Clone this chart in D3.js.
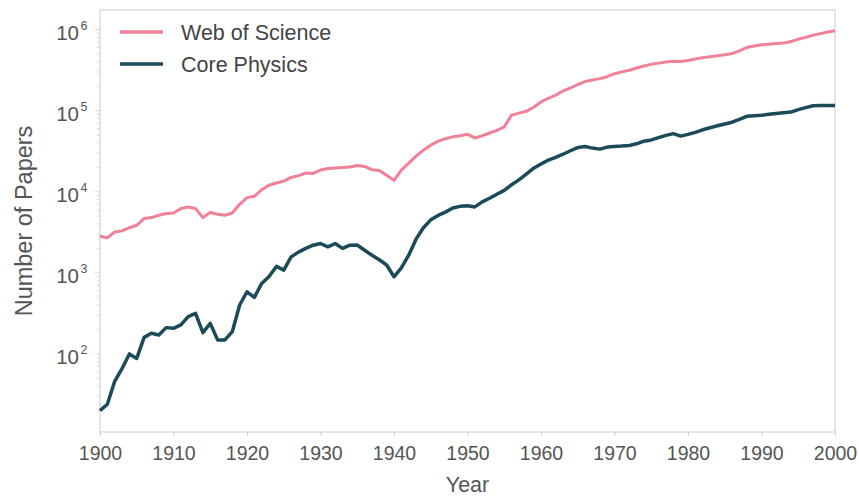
<!DOCTYPE html>
<meta charset="utf-8">
<style>
    body {
        margin: 0;
        background-color: #fff;
    }

    svg {
        display: block;
        font-family: "Liberation Sans", Arial, sans-serif;
    }
</style>
<script src="https://cdn.jsdelivr.net/npm/d3@7"></script>
<svg width="859" height="498"></svg>
<script>
    // anos 1900..2000
    var anos = d3.range(1900, 2001);

    var webOfScience = [
        2830, 2700, 3190, 3290, 3600, 3860, 4670, 4800, 5130, 5380,
        5470, 6200, 6490, 6200, 4800, 5530, 5280, 5130, 5470, 7000,
        8460, 8770, 10600, 12000, 12800, 13500, 15000, 15800, 17000, 16800,
        18500, 19300, 19600, 19900, 20200, 21000, 20500, 18700, 18300, 16000,
        13800, 18500, 22500, 27500, 32500, 37500, 42000, 45000, 47500, 49000,
        51000, 46000, 49000, 53000, 57000, 63000, 88000, 93000, 98000, 110000,
        128000, 142000, 155000, 175000, 190000, 210000, 228000, 238000, 248000, 262000,
        285000, 300000, 315000, 335000, 355000, 372000, 385000, 398000, 406000, 403000,
        415000, 432000, 450000, 462000, 475000, 487000, 505000, 545000, 600000, 625000,
        650000, 660000, 670000, 680000, 710000, 760000, 800000, 850000, 890000, 930000,
        966000
    ];

    var corePhysics = [
        20, 24, 46, 66, 100, 88, 160, 180, 171, 211,
        207, 228, 288, 316, 183, 238, 149, 149, 188, 401,
        584, 498, 740, 900, 1200, 1080, 1573, 1800, 2000, 2190,
        2300, 2090, 2300, 2000, 2190, 2200, 1900, 1650, 1450, 1250,
        894, 1150, 1650, 2600, 3600, 4500, 5100, 5600, 6300, 6600,
        6700, 6500, 7500, 8300, 9300, 10400, 12200, 14000, 16500, 19500,
        22000, 24500, 26500, 29000, 32000, 35000, 36100, 34500, 33500, 35500,
        36000, 36500, 37200, 39000, 42000, 43500, 46500, 49500, 52000, 48500,
        51000, 54000, 58000, 61500, 65000, 68500, 72000, 78000, 85000, 86500,
        87500, 90000, 92000, 94000, 96000, 103000, 109000, 115000, 116000, 116000,
        116000
    ];

    var series = [
        { nome: "Web of Science", valores: webOfScience, cor: "#f08196", largura: 3 },
        { nome: "Core Physics", valores: corePhysics, cor: "#1b4b58", largura: 3.5 }
    ];

    var xTicks = d3.range(1900, 2001, 10);
    var yTicks = [2, 3, 4, 5, 6];

    var svg = d3.select("svg"),
        margem = { top: 10, right: 24, bottom: 66, left: 100 },
        width = +svg.attr("width") - margem.left - margem.right,
        height = +svg.attr("height") - margem.top - margem.bottom;

    var x = d3.scaleLinear()
        .domain([1900, 2000])
        .range([0, width]);

    var y = d3.scaleLog()
        .domain([10.9, 1.74e6])
        .range([height, 0]);

    var g = svg.append("g")
        .attr("transform", "translate(" + margem.left + "," + margem.top + ")");

    // moldura
    g.append("rect")
        .attr("width", width)
        .attr("height", height)
        .attr("fill", "none")
        .attr("stroke", "#dcdcdc")
        .attr("stroke-width", 1.5);

    // eixo x
    var eixoX = g.append("g")
        .attr("transform", "translate(0," + height + ")")
        .call(d3.axisBottom(x).tickValues(xTicks).tickFormat(d3.format("d")).tickSize(4).tickPadding(10));
    eixoX.select(".domain").remove();
    eixoX.selectAll("line").attr("stroke", "#d0d0d0");
    eixoX.selectAll("text").attr("font-size", 19.5).attr("fill", "#555");

    // ticks menores do eixo y
    var menores = [];
    for (var e = 1; e <= 6; e++) {
        for (var m = 1; m <= 9; m++) {
            var v = m * Math.pow(10, e);
            if (v >= y.domain()[0] && v <= y.domain()[1]) menores.push(v);
        }
    }
    g.append("g")
        .selectAll("line")
        .data(menores)
        .enter().append("line")
        .attr("x1", 0)
        .attr("x2", function (d) { return yTicks.indexOf(Math.round(Math.log10(d) * 1000) / 1000) >= 0 ? -5 : -3; })
        .attr("y1", function (d) { return y(d); })
        .attr("y2", function (d) { return y(d); })
        .attr("stroke", "#d6d6d6")
        .attr("stroke-width", 1);

    // rótulos do eixo y (10^n)
    g.append("g")
        .selectAll("text")
        .data(yTicks)
        .enter().append("text")
        .attr("x", -21)
        .attr("y", function (d) { return y(Math.pow(10, d)) + 10.5; })
        .attr("text-anchor", "end")
        .attr("fill", "#555")
        .attr("font-size", 20.5)
        .text("10");
    g.append("g")
        .selectAll("text")
        .data(yTicks)
        .enter().append("text")
        .attr("x", -19.5)
        .attr("y", function (d) { return y(Math.pow(10, d)); })
        .attr("fill", "#555")
        .attr("font-size", 12.5)
        .text(function (d) { return d; });

    // linhas
    var linha = d3.line()
        .x(function (d, i) { return x(anos[i]); })
        .y(function (d) { return y(d); });

    g.selectAll(".serie")
        .data(series)
        .enter().append("path")
        .attr("class", "serie")
        .attr("d", function (d) { return linha(d.valores); })
        .attr("fill", "none")
        .attr("stroke", function (d) { return d.cor; })
        .attr("stroke-width", function (d) { return d.largura; })
        .attr("stroke-linejoin", "round");

    // legenda
    var legenda = g.selectAll(".legenda")
        .data(series)
        .enter().append("g")
        .attr("class", "legenda")
        .attr("transform", function (d, i) { return "translate(20," + (22 + i * 32) + ")"; });
    legenda.append("line")
        .attr("x1", 0).attr("x2", 43)
        .attr("stroke", function (d) { return d.cor; })
        .attr("stroke-width", 3.5);
    legenda.append("text")
        .attr("x", 61)
        .attr("dy", "0.35em")
        .attr("font-size", 21.5)
        .attr("fill", "#444")
        .text(function (d) { return d.nome; });

    // títulos dos eixos
    svg.append("text")
        .attr("x", margem.left + width / 2)
        .attr("y", 492)
        .attr("text-anchor", "middle")
        .attr("font-size", 21.5)
        .attr("fill", "#555")
        .text("Year");
    svg.append("text")
        .attr("transform", "translate(32," + (margem.top + height / 2) + ") rotate(-90)")
        .attr("text-anchor", "middle")
        .attr("font-size", 23.5)
        .attr("fill", "#555")
        .text("Number of Papers");
</script>
